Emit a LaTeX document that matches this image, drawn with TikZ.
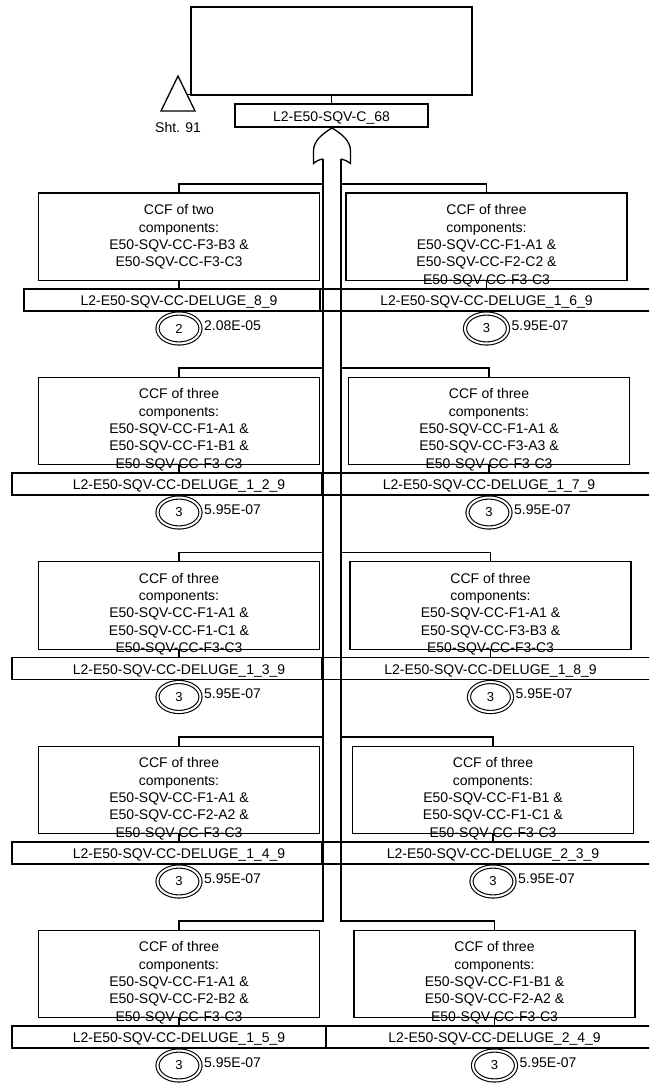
\documentclass[tikz,border=0pt]{standalone}
\usepackage{fontspec}
\setmainfont{Liberation Sans}
\usetikzlibrary{shapes.geometric}
\newcommand\evside[9]{%
  \node[evbox] (box#1) at (#2,#3+8.5) {};
  \node[evtext] (txt#1) at (#2,#3+20.5) {#6};
  \node[bar,minimum width=#5pt] (bar#1) at (#4,#3+116) {};
  \node[bartext] (lab#1) at (#2,#3+121.5) {#7};
  \node[evnum] (num#1) at (#2,#3+144.5) {#8};
  \node[prob] (p#1) at (#2+25,#3+146) {#9};
  \draw[lw] (box#1.south) -- (box#1.south |- bar#1.north);
}
\begin{document}
\begin{tikzpicture}[x=1pt,y=-1pt,
  lw/.style={line width=1.3pt},
  evbox/.style={draw,line width=1.3pt,rectangle,inner sep=0,minimum width=281pt,minimum height=87.5pt,anchor=north},
  evtext/.style={align=center,anchor=north,inner sep=0,font=\fontsize{14}{17.3}\selectfont},
  bar/.style={draw,line width=1.3pt,rectangle,inner sep=0,minimum height=22pt},
  bartext/.style={anchor=base,inner sep=0,font=\fontsize{14}{17}\selectfont},
  evnum/.style={draw,line width=1.1pt,double,double distance=2pt,ellipse,inner sep=0,minimum width=43pt,minimum height=30pt,font=\fontsize{13}{15}\selectfont},
  prob/.style={anchor=base west,inner sep=0,font=\fontsize{14}{17}\selectfont},
]
\useasboundingbox (0,0) rectangle (649,1083);
\clip (0,0) rectangle (649,1083);

% top event
\node[draw,lw,rectangle,inner sep=0,minimum width=281pt,minimum height=88pt] (top) at (331.5,51) {};
\node[bar,minimum width=193pt,minimum height=23pt] (topbar) at (331.5,115.5) {};
\node[bartext] (toplab) at (331.5,121.5) {L2-E50-SQV-C\_68};
\draw[lw] (top.south) -- (topbar.north);

% transfer triangle
\coordinate (tA) at (178,76);
\coordinate (tL) at (161,111);
\coordinate (tR) at (195,111);
\coordinate (tK) at (186.7,94.3);
\coordinate (tE) at (197,94.3);
\draw[lw] (tA) -- (tL) -- (tR) -- cycle;
\draw[lw] (tK) -- (tE);
\node[bartext] (sht) at (178,133) {Sht. 91};

% OR gate
\coordinate (gtop) at (332,128);
\coordinate (gL) at (323,159);
\coordinate (gR) at (341,159);
\draw[lw] (gL) .. controls (320,159.3) and (316,161) .. (313.5,163.5) -- (313.5,151)
  .. controls (313.5,141) and (322,134) .. (gtop)
  .. controls (342,134) and (350.5,141) .. (350.5,151) -- (350.5,163.5)
  .. controls (347,161) and (344,159.3) .. (gR);

% bus junctions
\coordinate (jL1) at (323,184);   \coordinate (jR1) at (341,184);
\coordinate (jL2) at (323,368);   \coordinate (jR2) at (341,368);
\coordinate (jL3) at (323,552.5); \coordinate (jR3) at (341,552.5);
\coordinate (jL4) at (323,737);   \coordinate (jR4) at (341,737);
\coordinate (jL5) at (323,921);   \coordinate (jR5) at (341,921);

% row 1
\evside{L1}{179}{184}{172}{296}{CCF of two\\components:\\E50-SQV-CC-F3-B3 \&\\E50-SQV-CC-F3-C3}{L2-E50-SQV-CC-DELUGE\_8\_9}{2}{2.08E-05}
\evside{R1}{486.5}{184}{490}{340}{CCF of three\\components:\\E50-SQV-CC-F1-A1 \&\\E50-SQV-CC-F2-C2 \&\\E50-SQV-CC-F3-C3}{L2-E50-SQV-CC-DELUGE\_1\_6\_9}{3}{5.95E-07}
% row 2
\evside{L2}{179}{368}{167}{310}{CCF of three\\components:\\E50-SQV-CC-F1-A1 \&\\E50-SQV-CC-F1-B1 \&\\E50-SQV-CC-F3-C3}{L2-E50-SQV-CC-DELUGE\_1\_2\_9}{3}{5.95E-07}
\evside{R2}{489}{368}{491}{338}{CCF of three\\components:\\E50-SQV-CC-F1-A1 \&\\E50-SQV-CC-F3-A3 \&\\E50-SQV-CC-F3-C3}{L2-E50-SQV-CC-DELUGE\_1\_7\_9}{3}{5.95E-07}
% row 3
\evside{L3}{179}{552.5}{167}{310}{CCF of three\\components:\\E50-SQV-CC-F1-A1 \&\\E50-SQV-CC-F1-C1 \&\\E50-SQV-CC-F3-C3}{L2-E50-SQV-CC-DELUGE\_1\_3\_9}{3}{5.95E-07}
\evside{R3}{490.5}{552.5}{491}{338}{CCF of three\\components:\\E50-SQV-CC-F1-A1 \&\\E50-SQV-CC-F3-B3 \&\\E50-SQV-CC-F3-C3}{L2-E50-SQV-CC-DELUGE\_1\_8\_9}{3}{5.95E-07}
% row 4
\evside{L4}{179}{737}{167}{310}{CCF of three\\components:\\E50-SQV-CC-F1-A1 \&\\E50-SQV-CC-F2-A2 \&\\E50-SQV-CC-F3-C3}{L2-E50-SQV-CC-DELUGE\_1\_4\_9}{3}{5.95E-07}
\evside{R4}{493}{737}{491}{338}{CCF of three\\components:\\E50-SQV-CC-F1-B1 \&\\E50-SQV-CC-F1-C1 \&\\E50-SQV-CC-F3-C3}{L2-E50-SQV-CC-DELUGE\_2\_3\_9}{3}{5.95E-07}
% row 5
\evside{L5}{179}{921}{169}{314}{CCF of three\\components:\\E50-SQV-CC-F1-A1 \&\\E50-SQV-CC-F2-B2 \&\\E50-SQV-CC-F3-C3}{L2-E50-SQV-CC-DELUGE\_1\_5\_9}{3}{5.95E-07}
\evside{R5}{494.5}{921}{493}{334}{CCF of three\\components:\\E50-SQV-CC-F1-B1 \&\\E50-SQV-CC-F2-A2 \&\\E50-SQV-CC-F3-C3}{L2-E50-SQV-CC-DELUGE\_2\_4\_9}{3}{5.95E-07}

% bus lines and branch connectors
\draw[lw] (gL) -- (jL5) -| (boxL5.north);
\draw[lw] (gR) -- (jR5) -| (boxR5.north);
\draw[lw] (jL1) -| (boxL1.north);
\draw[lw] (jR1) -| (boxR1.north);
\draw[lw] (jL2) -| (boxL2.north);
\draw[lw] (jR2) -| (boxR2.north);
\draw[lw] (jL3) -| (boxL3.north);
\draw[lw] (jR3) -| (boxR3.north);
\draw[lw] (jL4) -| (boxL4.north);
\draw[lw] (jR4) -| (boxR4.north);
\end{tikzpicture}
\end{document}
